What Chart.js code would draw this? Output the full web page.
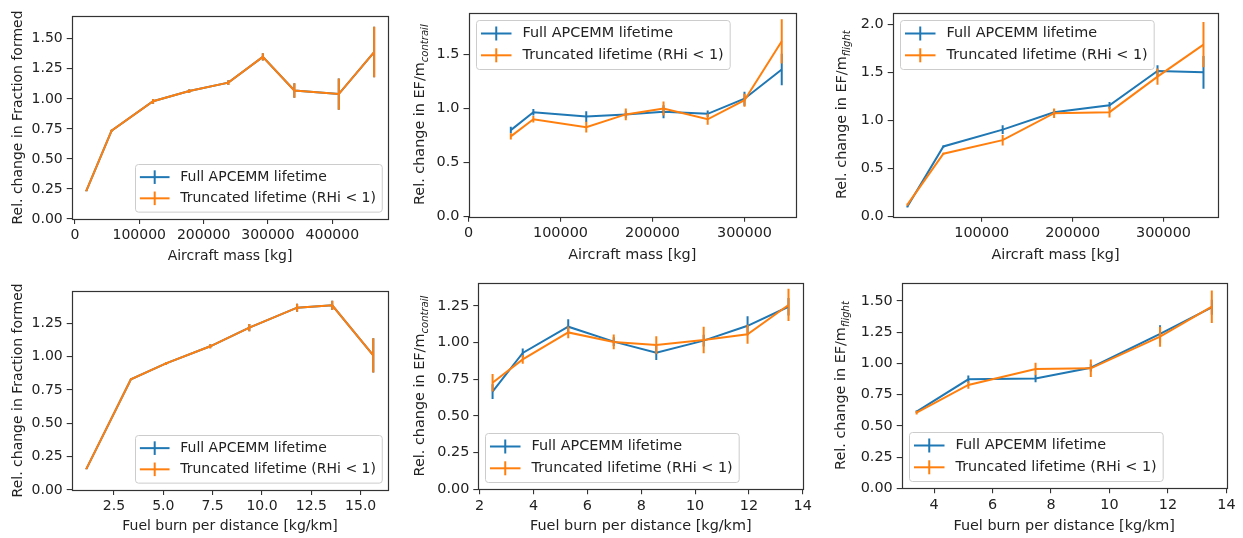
<!DOCTYPE html>
<html><head><meta charset="utf-8">
<script src="https://cdn.jsdelivr.net/npm/chart.js@4/dist/chart.umd.min.js"></script>
<style>
html,body{margin:0;padding:0;background:#fff;width:1243px;height:538px;overflow:hidden}
canvas{position:absolute}
</style></head><body>
<canvas id="c1" width="410" height="270" style="left:0px;top:0px"></canvas>
<canvas id="c2" width="420" height="270" style="left:410px;top:0px"></canvas>
<canvas id="c3" width="413" height="270" style="left:830px;top:0px"></canvas>
<canvas id="c4" width="410" height="268" style="left:0px;top:270px"></canvas>
<canvas id="c5" width="420" height="268" style="left:410px;top:270px"></canvas>
<canvas id="c6" width="413" height="268" style="left:830px;top:270px"></canvas>
<script>
// ---------- labels ----------
const seriesLabels = ['Full APCEMM lifetime', 'Truncated lifetime (RHi < 1)'];
const xTitleMass = 'Aircraft mass [kg]';
const xTitleFuel = 'Fuel burn per distance [kg/km]';
const yTitleFraction = ['Rel. change in Fraction formed', ''];
const yTitleContrail = ['Rel. change in EF/m', 'contrail'];
const yTitleFlight = ['Rel. change in EF/m', 'flight'];

// ---------- panel A: fraction formed vs aircraft mass ----------
const massA = [17700, 57000, 121500, 177700, 238400, 292000, 341000, 410000, 465000];
const fullA = [0.235, 0.735, 0.98, 1.065, 1.135, 1.35, 1.07, 1.04, 1.39];
const fullErrA = [0.005, 0.008, 0.02, 0.015, 0.02, 0.03, 0.06, 0.13, 0.21];
const truncA = [0.235, 0.735, 0.98, 1.065, 1.135, 1.35, 1.07, 1.04, 1.39];
const truncErrA = [0.005, 0.008, 0.02, 0.015, 0.02, 0.03, 0.06, 0.13, 0.21];
const xTicksA = [0, 100000, 200000, 300000, 400000];
const yTicksA = [0, 0.25, 0.5, 0.75, 1.0, 1.25, 1.5];

// ---------- panel B: EF/m_contrail vs aircraft mass ----------
const massB = [46000, 70500, 128000, 171000, 212000, 260000, 300000, 340500];
const fullB = [0.80, 0.965, 0.925, 0.945, 0.97, 0.95, 1.09, 1.36];
const fullErrB = [0.03, 0.03, 0.05, 0.03, 0.06, 0.03, 0.065, 0.145];
const truncB = [0.742, 0.90, 0.827, 0.945, 1.0, 0.90, 1.076, 1.62];
const truncErrB = [0.03, 0.03, 0.05, 0.055, 0.065, 0.05, 0.06, 0.205];
const xTicksB = [0, 100000, 200000, 300000];
const yTicksB = [0, 0.5, 1.0, 1.5];

// ---------- panel C: EF/m_flight vs aircraft mass ----------
const massC = [18200, 57800, 123000, 179600, 240600, 293400, 344000];
const fullC = [0.105, 0.73, 0.905, 1.085, 1.157, 1.514, 1.50];
const fullErrC = [0.01, 0.01, 0.045, 0.03, 0.035, 0.06, 0.17];
const truncC = [0.125, 0.655, 0.795, 1.075, 1.086, 1.455, 1.788];
const truncErrC = [0.01, 0.01, 0.055, 0.05, 0.055, 0.085, 0.235];
const xTicksC = [100000, 200000, 300000];
const yTicksC = [0, 0.5, 1.0, 1.5, 2.0];

// ---------- panel D: fraction formed vs fuel burn ----------
const fuelD = [1.11, 3.36, 5.14, 7.38, 9.36, 11.78, 13.56, 15.64];
const fullD = [0.16, 0.83, 0.95, 1.078, 1.218, 1.368, 1.385, 1.01];
const fullErrD = [0.005, 0.005, 0.01, 0.015, 0.028, 0.03, 0.035, 0.128];
const truncD = [0.16, 0.83, 0.95, 1.078, 1.218, 1.368, 1.385, 1.01];
const truncErrD = [0.005, 0.005, 0.01, 0.015, 0.028, 0.03, 0.035, 0.128];
const xTicksD = [2.5, 5.0, 7.5, 10.0, 12.5, 15.0];
const yTicksD = [0, 0.25, 0.5, 0.75, 1.0, 1.25];

// ---------- panel E: EF/m_contrail vs fuel burn ----------
const fuelE = [2.48, 3.60, 5.29, 6.98, 8.56, 10.32, 11.95, 13.47];
const fullE = [0.666, 0.93, 1.109, 1.007, 0.932, 1.014, 1.115, 1.245];
const fullErrE = [0.05, 0.03, 0.05, 0.03, 0.05, 0.04, 0.065, 0.06];
const truncE = [0.727, 0.886, 1.07, 1.005, 0.984, 1.018, 1.057, 1.257];
const truncErrE = [0.06, 0.03, 0.04, 0.05, 0.06, 0.09, 0.065, 0.11];
const xTicksE = [2, 4, 6, 8, 10, 12, 14];
const yTicksE = [0, 0.25, 0.5, 0.75, 1.0, 1.25];

// ---------- panel F: EF/m_flight vs fuel burn ----------
const fuelF = [3.40, 5.17, 7.47, 9.36, 11.73, 13.5];
const fullF = [0.613, 0.872, 0.878, 0.965, 1.235, 1.448];
const fullErrF = [0.01, 0.03, 0.03, 0.03, 0.07, 0.06];
const truncF = [0.605, 0.827, 0.955, 0.96, 1.213, 1.453];
const truncErrF = [0.015, 0.03, 0.05, 0.07, 0.08, 0.13];
const xTicksF = [4, 6, 8, 10, 12, 14];
const yTicksF = [0, 0.25, 0.5, 0.75, 1.0, 1.25, 1.5];

// ---------- styling ----------
const BLUE = '#1f77b4', ORANGE = '#ff7f0e', INK = '#222222', FRAME = '#333333', FONT = 'DejaVu Sans';

const mplExtras = {
  id: 'mplExtras',
  afterDatasetDraw(chart, args) {
    const ds = chart.data.datasets[args.index];
    const ys = chart.scales.y, a = chart.chartArea, ctx = chart.ctx;
    ctx.save();
    ctx.beginPath(); ctx.rect(a.left, a.top, a.right - a.left, a.bottom - a.top); ctx.clip();
    ctx.strokeStyle = ds.borderColor; ctx.lineWidth = ds.borderWidth; ctx.lineCap = 'butt';
    args.meta.data.forEach((pt, i) => {
      const v = ds.data[i].y, e = ds.errors[i];
      ctx.beginPath();
      ctx.moveTo(pt.x, ys.getPixelForValue(v - e));
      ctx.lineTo(pt.x, ys.getPixelForValue(v + e));
      ctx.stroke();
    });
    ctx.restore();
  },
  afterDraw(chart, args, o) {
    const ctx = chart.ctx, a = chart.chartArea, fs = o.fs;
    // frame
    ctx.save();
    ctx.strokeStyle = FRAME; ctx.lineWidth = 1.2;
    ctx.strokeRect(Math.round(a.left) + 0.5, Math.round(a.top) + 0.5,
      Math.round(a.right) - Math.round(a.left), Math.round(a.bottom) - Math.round(a.top));
    ctx.restore();
    // y title (main + subscript)
    ctx.save();
    const cy = (a.top + a.bottom) / 2;
    ctx.translate(o.yTitleX, cy);
    ctx.rotate(-Math.PI / 2);
    ctx.fillStyle = INK;
    ctx.textBaseline = 'middle'; ctx.textAlign = 'left';
    const mainFont = fs + 'px "' + FONT + '"';
    const subFont = 'italic ' + (fs * 0.7).toFixed(2) + 'px "' + FONT + '"';
    ctx.font = mainFont; const wm = ctx.measureText(o.yTitle[0]).width;
    ctx.font = subFont; const wsub = o.yTitle[1] ? ctx.measureText(o.yTitle[1]).width : 0;
    const x0 = -(wm + wsub) / 2;
    ctx.font = mainFont; ctx.fillText(o.yTitle[0], x0, 0);
    if (o.yTitle[1]) { ctx.font = subFont; ctx.fillText(o.yTitle[1], x0 + wm, fs * 0.35); }
    ctx.restore();
    // legend
    ctx.save();
    ctx.font = fs + 'px "' + FONT + '"';
    const sc = fs / 14.4;
    const textX = 46 * sc;
    const tw = Math.max(...chart.data.datasets.map(d => ctx.measureText(d.label).width));
    const bw = textX + tw + 6.5 * sc, bh = 49 * sc;
    const pad = 7;
    let bx = o.legend.includes('r') ? a.right - pad - bw : a.left + pad;
    let by = o.legend.includes('b') ? a.bottom - pad - bh : a.top + pad;
    bx = Math.round(bx) + 0.5; by = Math.round(by) + 0.5;
    ctx.beginPath(); ctx.roundRect(bx, by, bw, bh, 3);
    ctx.fillStyle = 'rgba(255,255,255,0.8)'; ctx.fill();
    ctx.strokeStyle = '#cccccc'; ctx.lineWidth = 1; ctx.stroke();
    const rows = [13 * sc, 34.8 * sc];
    chart.data.datasets.forEach((d, i) => {
      const ry = by + rows[i];
      ctx.strokeStyle = d.borderColor; ctx.lineWidth = 2;
      ctx.beginPath(); ctx.moveTo(bx + 4.5 * sc, ry); ctx.lineTo(bx + 35 * sc, ry); ctx.stroke();
      const mx = bx + 19.75 * sc;
      ctx.beginPath(); ctx.moveTo(mx, ry - 7 * sc); ctx.lineTo(mx, ry + 7 * sc); ctx.stroke();
      ctx.fillStyle = INK; ctx.textBaseline = 'middle'; ctx.textAlign = 'left';
      ctx.fillText(d.label, bx + textX, ry);
    });
    ctx.restore();
  }
};

function pts(xs, ys) { return xs.map((x, i) => ({ x: x, y: ys[i] })); }

function makePanel(id, p) {
  const fs = p.fs;
  const font = { family: FONT, size: fs };
  new Chart(document.getElementById(id), {
    type: 'line',
    data: {
      datasets: [
        { label: seriesLabels[0], data: pts(p.x, p.full), errors: p.fullErr, borderColor: BLUE, backgroundColor: BLUE, borderWidth: 2, pointRadius: 0, tension: 0, order: 1 },
        { label: seriesLabels[1], data: pts(p.x, p.trunc), errors: p.truncErr, borderColor: ORANGE, backgroundColor: ORANGE, borderWidth: 2, pointRadius: 0, tension: 0, order: 0 }
      ]
    },
    options: {
      responsive: false, animation: false, devicePixelRatio: 1,
      layout: { padding: { top: p.padTop, right: p.padRight, left: 0, bottom: 0 } },
      plugins: {
        legend: { display: false }, tooltip: { enabled: false },
        mplExtras: { fs: fs, yTitle: p.yTitle, yTitleX: p.yTitleX, legend: p.legend }
      },
      scales: {
        x: {
          type: 'linear', min: p.xMin, max: p.xMax,
          afterBuildTicks: s => { s.ticks = p.xTicks.map(v => ({ value: v })); },
          afterFit: s => { s.height = p.xAxisH; },
          ticks: { font: font, color: INK, padding: 3, autoSkip: false, maxRotation: 0,
                   callback: v => Number(v).toFixed(p.xDec) },
          grid: { drawOnChartArea: false, drawTicks: true, tickLength: 5, color: FRAME, lineWidth: 1.1 },
          border: { display: false },
          title: { display: true, text: p.xTitle, font: font, color: INK, padding: { top: 0, bottom: p.xTitlePad } }
        },
        y: {
          type: 'linear', min: 0, max: p.yMax,
          afterBuildTicks: s => { s.ticks = p.yTicks.map(v => ({ value: v })); },
          afterFit: s => { s.width = p.yAxisW; },
          ticks: { font: font, color: INK, padding: 4, autoSkip: false,
                   callback: v => Number(v).toFixed(p.yDec) },
          grid: { drawOnChartArea: false, drawTicks: true, tickLength: 5, color: FRAME, lineWidth: 1.1 },
          border: { display: false }
        }
      }
    },
    plugins: [mplExtras]
  });
}

makePanel('c1', { x: massA, full: fullA, fullErr: fullErrA, trunc: truncA, truncErr: truncErrA,
  xTicks: xTicksA, yTicks: yTicksA, xDec: 0, yDec: 2, xMin: -5000, xMax: 487000, yMax: 1.69,
  xTitle: xTitleMass, yTitle: yTitleFraction, fs: 14,
  yAxisW: 71.7, xAxisH: 51, padTop: 16, padRight: 21.7, xTitlePad: 5.6, yTitleX: 18.3, legend: 'br' });

makePanel('c2', { x: massB, full: fullB, fullErr: fullErrB, trunc: truncB, truncErr: truncErrB,
  xTicks: xTicksB, yTicks: yTicksB, xDec: 0, yDec: 1, xMin: 0, xMax: 356000, yMax: 1.885,
  xTitle: xTitleMass, yTitle: yTitleContrail, fs: 14.4,
  yAxisW: 58.5, xAxisH: 53.3, padTop: 9.3, padRight: 34, xTitlePad: 6.4, yTitleX: 10.7, legend: 'tl' });

makePanel('c3', { x: massC, full: fullC, fullErr: fullErrC, trunc: truncC, truncErr: truncErrC,
  xTicks: xTicksC, yTicks: yTicksC, xDec: 0, yDec: 1, xMin: 2000, xMax: 360300, yMax: 2.12,
  xTitle: xTitleMass, yTitle: yTitleFlight, fs: 14.4,
  yAxisW: 62.7, xAxisH: 53.3, padTop: 10, padRight: 24.7, xTitlePad: 6.4, yTitleX: 12.3, legend: 'tl' });

makePanel('c4', { x: fuelD, full: fullD, fullErr: fullErrD, trunc: truncD, truncErr: truncErrD,
  xTicks: xTicksD, yTicks: yTicksD, xDec: 1, yDec: 2, xMin: 0.36, xMax: 16.4, yMax: 1.495,
  xTitle: xTitleFuel, yTitle: yTitleFraction, fs: 14,
  yAxisW: 71.7, xAxisH: 48, padTop: 20.7, padRight: 21.7, xTitlePad: 2.9, yTitleX: 18.7, legend: 'br' });

makePanel('c5', { x: fuelE, full: fullE, fullErr: fullErrE, trunc: truncE, truncErr: truncErrE,
  xTicks: xTicksE, yTicks: yTicksE, xDec: 0, yDec: 2, xMin: 1.95, xMax: 14.02, yMax: 1.409,
  xTitle: xTitleFuel, yTitle: yTitleContrail, fs: 14.4,
  yAxisW: 68.3, xAxisH: 48.7, padTop: 12.7, padRight: 26.7, xTitlePad: 3.4, yTitleX: 10, legend: 'bl' });

makePanel('c6', { x: fuelF, full: fullF, fullErr: fullErrF, trunc: truncF, truncErr: truncErrF,
  xTicks: xTicksF, yTicks: yTicksF, xDec: 0, yDec: 2, xMin: 2.89, xMax: 14.01, yMax: 1.645,
  xTitle: xTitleFuel, yTitle: yTitleFlight, fs: 14.4,
  yAxisW: 71.7, xAxisH: 49.7, padTop: 12.7, padRight: 16.3, xTitlePad: 2.7, yTitleX: 11.7, legend: 'bl' });
</script>
</body></html>
